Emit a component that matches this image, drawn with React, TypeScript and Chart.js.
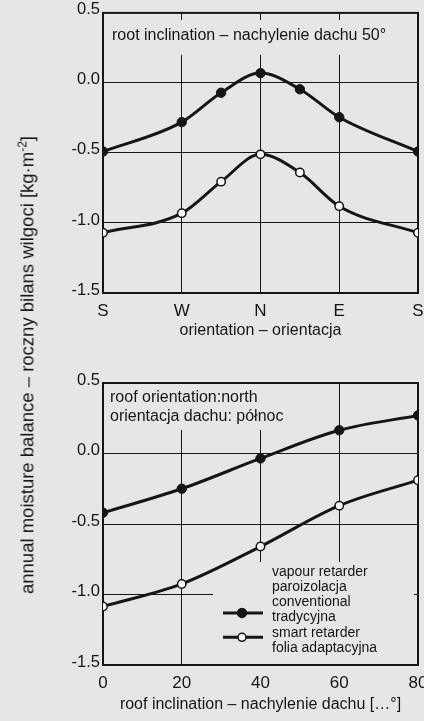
import React, { useEffect, useRef } from "react";
import { Chart, registerables } from "chart.js";

Chart.register(...registerables);

// ---------- data ----------
const orientationPositions = [0, 1, 1.5, 2, 2.5, 3, 4];
const orientationTickLabels = ["S", "W", "N", "E", "S"];
const conventionalByOrientation = [-0.49, -0.28, -0.07, 0.07, -0.045, -0.245, -0.49];
const smartByOrientation = [-1.07, -0.93, -0.705, -0.51, -0.64, -0.88, -1.07];

const inclinations = [0, 20, 40, 60, 80];
const conventionalByInclination = [-0.42, -0.25, -0.035, 0.165, 0.27];
const smartByInclination = [-1.085, -0.925, -0.66, -0.37, -0.19];

const yMin = -1.5;
const yMax = 0.5;
const yStep = 0.5;

const topNote = ["root inclination – nachylenie dachu 50°"];
const bottomNote = ["roof orientation:north", "orientacja dachu: północ"];
const legendTitle = ["vapour retarder", "paroizolacja"];
const conventionalLabel = ["conventional", "tradycyjna"];
const smartLabel = ["smart retarder", "folia adaptacyjna"];
const topXTitle = "orientation – orientacja";
const bottomXTitle = "roof inclination – nachylenie dachu […°]";

// ---------- styles ----------
const FONT = "'Liberation Sans', Arial, Helvetica, sans-serif";
const INK = "#151515";
const BG = "#e8e6e5";
const OPEN_FILL = "#f7f7f7";

const CANVAS_W = 440;

type Rect = { x: number; y: number; r?: number; b?: number; w?: number; h?: number };

function decorPlugin(cfg: {
  covers: Rect[];
  notes: string[];
  noteX: number;
  noteY: number;
  noteGap: number;
  legend?: boolean;
}) {
  return {
    id: "decor",
    beforeDatasetsDraw(chart: any) {
      const { ctx, chartArea: a } = chart;
      ctx.save();
      ctx.fillStyle = BG;
      for (const c of cfg.covers) {
        const x0 = a.left + c.x;
        const y0 = a.top + c.y;
        const x1 = c.r !== undefined ? a.right - c.r : x0 + (c.w || 0);
        const y1 = c.b !== undefined ? a.bottom - c.b : y0 + (c.h || 0);
        ctx.fillRect(x0, y0, x1 - x0, y1 - y0);
      }
      ctx.strokeStyle = INK;
      ctx.lineWidth = 2;
      ctx.strokeRect(a.left, a.top, a.right - a.left, a.bottom - a.top);
      ctx.restore();
    },
    afterDatasetsDraw(chart: any) {
      const { ctx, chartArea: a } = chart;
      ctx.save();
      ctx.fillStyle = INK;
      ctx.font = `16px ${FONT}`;
      ctx.textBaseline = "middle";
      ctx.textAlign = "left";
      cfg.notes.forEach((t, i) => {
        ctx.fillText(t, a.left + cfg.noteX, a.top + cfg.noteY + i * cfg.noteGap);
      });
      if (cfg.legend) {
        const tx = a.left + 169;
        const ty = a.top + 189;
        const gap = 15.2;
        const lines = [...legendTitle, ...conventionalLabel, ...smartLabel];
        ctx.font = `14px ${FONT}`;
        lines.forEach((t, i) => ctx.fillText(t, tx, ty + i * gap));
        const samples = [
          { y: ty + 2 * gap + 10.5, fill: INK, r: 4.5 },
          { y: ty + 4 * gap + 4.5, fill: OPEN_FILL, r: 4 },
        ];
        for (const s of samples) {
          ctx.strokeStyle = INK;
          ctx.lineWidth = 3;
          ctx.beginPath();
          ctx.moveTo(a.left + 120, s.y);
          ctx.lineTo(a.left + 160, s.y);
          ctx.stroke();
          ctx.beginPath();
          ctx.arc(a.left + 139, s.y, s.r, 0, Math.PI * 2);
          ctx.fillStyle = s.fill;
          ctx.fill();
          ctx.lineWidth = 1.5;
          ctx.stroke();
          ctx.fillStyle = INK;
        }
      }
      ctx.restore();
    },
  };
}

function makeDatasets(xs: number[], conv: number[], smart: number[]) {
  return [
    {
      label: conventionalLabel.join(" – "),
      data: xs.map((x, i) => ({ x, y: conv[i] })),
      borderColor: INK,
      borderWidth: 3,
      pointRadius: 4.7,
      pointBackgroundColor: INK,
      pointBorderColor: INK,
      pointBorderWidth: 1,
      cubicInterpolationMode: "monotone" as const,
      clip: 0,
    },
    {
      label: smartLabel.join(" – "),
      data: xs.map((x, i) => ({ x, y: smart[i] })),
      borderColor: INK,
      borderWidth: 3,
      pointRadius: 4.2,
      pointBackgroundColor: OPEN_FILL,
      pointBorderColor: INK,
      pointBorderWidth: 1.5,
      cubicInterpolationMode: "monotone" as const,
      clip: 0,
    },
  ];
}

function makeOptions(p: {
  xMin: number;
  xMax: number;
  xStep: number;
  xLabel: (v: number) => string;
  xTitle: string;
  padTop: number;
  xAxisH: number;
  titlePadBottom: number;
}) {
  return {
    responsive: false,
    animation: false as const,
    devicePixelRatio: 1,
    layout: { padding: { left: 0, right: CANVAS_W - 418, top: p.padTop, bottom: 0 } },
    plugins: { legend: { display: false }, tooltip: { enabled: false }, title: { display: false } },
    scales: {
      x: {
        type: "linear" as const,
        min: p.xMin,
        max: p.xMax,
        afterFit: (s: any) => {
          s.height = p.xAxisH;
        },
        ticks: {
          stepSize: p.xStep,
          autoSkip: false,
          maxRotation: 0,
          padding: 8,
          color: INK,
          font: { family: FONT, size: 17 },
          callback: (v: any) => p.xLabel(Number(v)),
        },
        grid: { color: INK, lineWidth: 1, drawTicks: false },
        border: { display: false },
        title: {
          display: true,
          text: p.xTitle,
          color: INK,
          font: { family: FONT, size: 16 },
          padding: { top: 0, bottom: p.titlePadBottom },
        },
      },
      y: {
        type: "linear" as const,
        min: yMin,
        max: yMax,
        afterFit: (s: any) => {
          s.width = 103;
        },
        ticks: {
          stepSize: yStep,
          padding: 3,
          labelOffset: -3,
          color: INK,
          font: { family: FONT, size: 16.5 },
          callback: (v: any) => Number(v).toFixed(1),
        },
        grid: { color: INK, lineWidth: 1, drawTicks: false },
        border: { display: false },
      },
    },
  };
}

function OrientationChart() {
  const ref = useRef<HTMLCanvasElement>(null);
  useEffect(() => {
    const chart = new Chart(ref.current!, {
      type: "line",
      data: { datasets: makeDatasets(orientationPositions, conventionalByOrientation, smartByOrientation) as any },
      options: makeOptions({
        xMin: 0,
        xMax: 4,
        xStep: 1,
        xLabel: (v) => orientationTickLabels[Math.round(v)] ?? "",
        xTitle: topXTitle,
        padTop: 11,
        xAxisH: 52,
        titlePadBottom: 4.4,
      }) as any,
      plugins: [
        decorPlugin({
          covers: [{ x: 1, y: 7, r: 1, h: 35 }],
          notes: topNote,
          noteX: 9,
          noteY: 23,
          noteGap: 19,
        }) as any,
      ],
    });
    return () => chart.destroy();
  }, []);
  return (
    <canvas
      ref={ref}
      width={CANVAS_W}
      height={345}
      style={{ position: "absolute", left: 0, top: 0, width: CANVAS_W, height: 345 }}
    />
  );
}

function InclinationChart() {
  const ref = useRef<HTMLCanvasElement>(null);
  useEffect(() => {
    const chart = new Chart(ref.current!, {
      type: "line",
      data: { datasets: makeDatasets(inclinations, conventionalByInclination, smartByInclination) as any },
      options: makeOptions({
        xMin: 0,
        xMax: 80,
        xStep: 20,
        xLabel: (v) => String(v),
        xTitle: bottomXTitle,
        padTop: 38,
        xAxisH: 56,
        titlePadBottom: 6.4,
      }) as any,
      plugins: [
        decorPlugin({
          covers: [
            { x: 1, y: 1, w: 200, h: 46 },
            { x: 110, y: 179, r: 4, b: 1 },
          ],
          notes: bottomNote,
          noteX: 7,
          noteY: 15,
          noteGap: 19,
          legend: true,
        }) as any,
      ],
    });
    return () => chart.destroy();
  }, []);
  return (
    <canvas
      ref={ref}
      width={CANVAS_W}
      height={376}
      style={{ position: "absolute", left: 0, top: 345, width: CANVAS_W, height: 376 }}
    />
  );
}

export default function App() {
  return (
    <div
      style={{
        position: "fixed",
        left: 0,
        top: 0,
        width: 424,
        height: 721,
        overflow: "hidden",
        background: BG,
      }}
    >
      <OrientationChart />
      <InclinationChart />
      <div
        style={{
          position: "absolute",
          left: 27,
          top: 365,
          transform: "translate(-50%, -50%) rotate(-90deg)",
          whiteSpace: "nowrap",
          fontFamily: FONT,
          fontSize: 18.5,
          color: INK,
        }}
      >
        annual moisture balance – roczny bilans wilgoci [kg·m<sup style={{ fontSize: 12 }}>-2</sup>]
      </div>
    </div>
  );
}
